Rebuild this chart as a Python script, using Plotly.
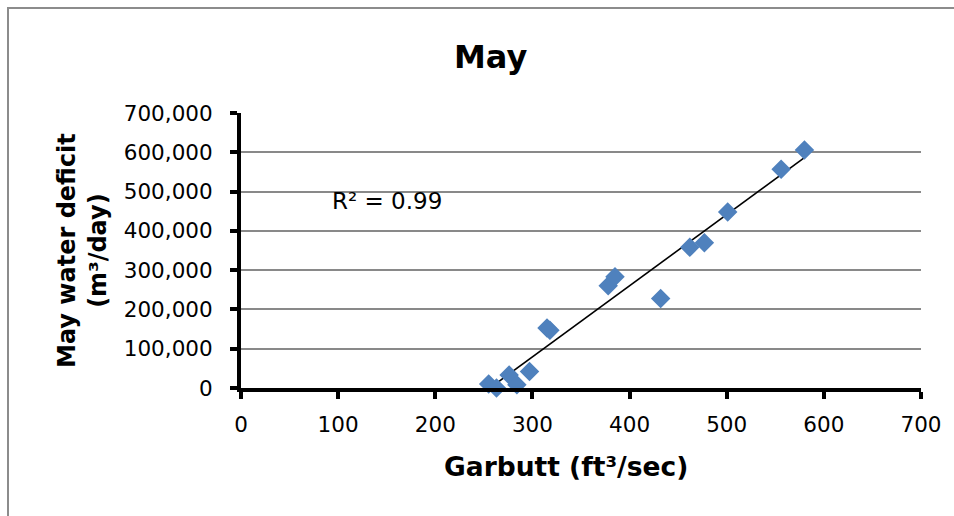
import numpy as np
import plotly.graph_objects as go

# Garbutt flow (ft3/sec) vs May water deficit (m3/day)
garbutt = [255, 263, 276, 284, 297, 315, 318, 378, 385, 432, 462, 477, 501, 556, 580]
deficit = [10000, 0, 33000, 8000, 42000, 153000, 147000, 260000, 283000, 228000,
           358000, 370000, 448000, 557000, 606000]

x_ticks = [0, 100, 200, 300, 400, 500, 600, 700]
y_ticks = [0, 100000, 200000, 300000, 400000, 500000, 600000, 700000]
y_tick_text = ["0", "100,000", "200,000", "300,000", "400,000", "500,000", "600,000", "700,000"]

# linear least-squares trendline over the data span
slope, intercept = np.polyfit(garbutt, deficit, 1)
fit_x = [min(garbutt), max(garbutt)]
fit_y = [slope * v + intercept for v in fit_x]

W, H = 954, 516
L, R, T, B = 241, 33, 113, 128
pw, ph = W - L - R, H - T - B


def px(xp):
    return (xp - L) / pw


def py(yp):
    return (H - B - yp) / ph


font = "DejaVu Sans, sans-serif"

fig = go.Figure()
fig.add_trace(go.Scatter(
    x=fit_x, y=fit_y, mode="lines",
    line=dict(color="black", width=1.6),
    hoverinfo="skip", showlegend=False,
))
fig.add_trace(go.Scatter(
    x=garbutt, y=deficit, mode="markers",
    marker=dict(symbol="diamond", size=15, color="#4F81BD"),
    cliponaxis=False, showlegend=False,
))

axis_common = dict(
    showline=True, linecolor="black", linewidth=4,
    ticks="outside", ticklen=7, tickwidth=4, tickcolor="black",
    tickfont=dict(family=font, size=21.5, color="black"),
    zeroline=False,
)

fig.update_layout(
    width=W, height=H,
    margin=dict(l=L, r=R, t=T, b=B, pad=0),
    paper_bgcolor="white", plot_bgcolor="white",
    xaxis=dict(range=[0, 700], tickvals=x_ticks, showgrid=False,
               ticklabelstandoff=7, **axis_common),
    yaxis=dict(range=[0, 700000], tickvals=y_ticks, ticktext=y_tick_text,
               showgrid=True, gridcolor="#898989", gridwidth=1.6,
               ticklabelstandoff=13, **axis_common),
    annotations=[
        dict(text="<b>May</b>", xref="paper", yref="paper", x=px(490), y=py(57),
             showarrow=False, font=dict(family=font, size=32, color="black"),
             xanchor="center", yanchor="middle"),
        dict(text="<b>Garbutt (ft³/sec)</b>", xref="paper", yref="paper",
             x=px(566), y=py(466), showarrow=False,
             font=dict(family=font, size=26.5, color="black"),
             xanchor="center", yanchor="middle"),
        dict(text="<b>May water deficit<br>(m³/day)</b>", xref="paper", yref="paper",
             x=px(82), y=py(251), showarrow=False, textangle=-90,
             font=dict(family=font, size=24, color="black"),
             xanchor="center", yanchor="middle"),
        dict(text="R² = 0.99", xref="paper", yref="paper",
             x=px(330), y=py(201), showarrow=False,
             font=dict(family=font, size=23, color="black"),
             xanchor="left", yanchor="middle"),
    ],
    shapes=[
        dict(type="rect", xref="paper", yref="paper",
             x0=px(8), y0=py(H + 20), x1=px(W + 20), y1=py(8),
             line=dict(color="#8C8C8C", width=2), layer="below"),
    ],
)

fig.write_html("out.html")
